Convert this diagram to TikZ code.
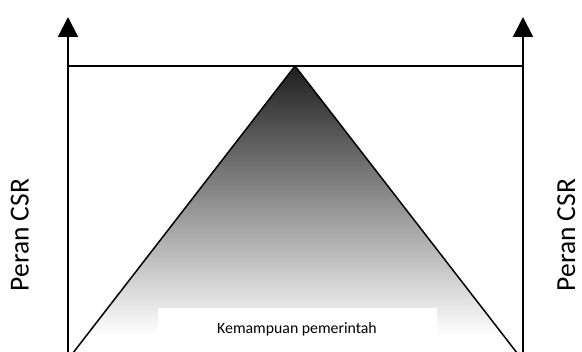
\documentclass[tikz,border=0pt]{standalone}
\usepackage{fontspec}
\setmainfont{Carlito}
\usetikzlibrary{arrows.meta}
\begin{document}
\begin{tikzpicture}[x=1pt,y=-1pt,
  axisline/.style={line width=2pt,-{Triangle[width=20pt,length=20pt]}},
  thinline/.style={line width=1.5pt},
  sidelabel/.style={font=\fontsize{27.5}{32}\selectfont,rotate=90,inner sep=0pt,anchor=base}]
\useasboundingbox (0,0) rectangle (582,352);
\clip (0,0) rectangle (582,352);
% coordinates
\coordinate (apex) at (295,66);
\coordinate (bl) at (66,362);
\coordinate (br) at (524,362);
\coordinate (lb) at (68,360);
\coordinate (lt) at (68,17);
\coordinate (rb) at (523,360);
\coordinate (rt) at (523,17);
\coordinate (hl) at (68,66);
\coordinate (hr) at (523,66);
% triangle gradient
\begin{scope}
  \clip (apex) -- (bl) -- (br) -- cycle;
  \shade[top color=black!88, bottom color=white] (60,66) rectangle (530,335);
\end{scope}
\draw[thinline,line join=miter] (bl) -- (apex) -- (br);
% axes
\draw[thinline] (hl) -- (hr);
\draw[axisline] (lb) -- (lt);
\draw[axisline] (rb) -- (rt);
% white box
\node[fill=white,minimum width=279pt,minimum height=50pt,anchor=north west,inner sep=0pt] (box) at (158,308) {};
\node[font=\fontsize{15.8}{18}\selectfont,anchor=base] (lbl) at (297,334) {Kemampuan pemerintah};
% side labels
\node[sidelabel] (pl) at (28.5,235) {Peran CSR};
\node[sidelabel] (pr) at (575,235) {Peran CSR};
\end{tikzpicture}
\end{document}
